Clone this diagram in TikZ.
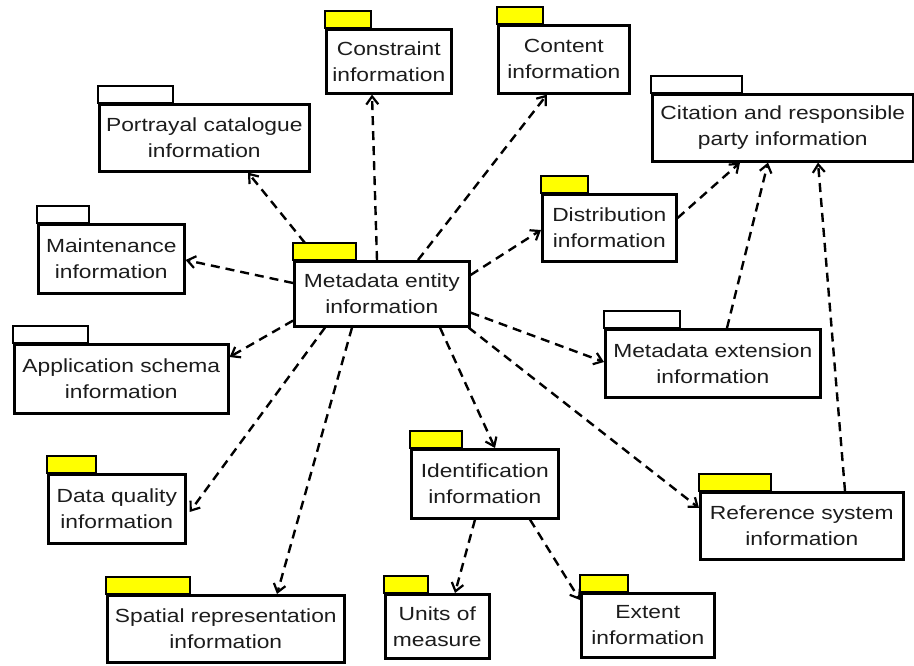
\documentclass[tikz,border=0pt]{standalone}
\usepackage{fontspec}
\setmainfont{Liberation Sans}[FakeStretch=1.2]
\usetikzlibrary{arrows.meta}
\definecolor{tabyellow}{HTML}{FFFF00}
\definecolor{labelgray}{HTML}{1C1C1C}

% package symbol: body node plus the small tab on its upper left
\newcommand{\pkgbox}[8]{%
  \node[pkgbody, minimum width=#4pt, minimum height=#5pt, anchor=north west] (#1) at (#2,#3) {#8};
  \draw[pkgtab, fill=#7] (#1.north west) rectangle ++(#6,-17);
}

\tikzset{
  pkgbody/.style={draw=black, line width=2.6pt, fill=white, align=center,
    text=labelgray, font=\fontsize{19}{26}\selectfont, inner sep=2pt},
  pkgtab/.style={draw=black, line width=2.6pt},
  dep/.style={line width=2.4pt, dash pattern=on 9pt off 6pt,
    -{Straight Barb[length=8pt,width=12pt,line width=2.2pt]}},
}

\begin{document}
\begin{tikzpicture}[x=1pt, y=-1pt]
\useasboundingbox (0,0) rectangle (914,666);

\pkgbox{meta}{293}{260}{175}{65}{63}{tabyellow}{Metadata entity\\information}
\pkgbox{constraint}{325}{28}{125}{64}{46}{tabyellow}{Constraint\\information}
\pkgbox{content}{497}{24}{131}{68}{46}{tabyellow}{Content\\information}
\pkgbox{portrayal}{98}{103}{210}{67}{75}{white}{Portrayal catalogue\\information}
\pkgbox{citation}{651}{93}{261}{67}{91}{white}{Citation and responsible\\party information}
\pkgbox{maint}{37}{223}{146}{69}{52}{white}{Maintenance\\information}
\pkgbox{distrib}{541}{193}{134}{67}{47}{tabyellow}{Distribution\\information}
\pkgbox{appschema}{13}{343}{214}{69}{75}{white}{Application schema\\information}
\pkgbox{extension}{604}{328}{215}{68}{76}{white}{Metadata extension\\information}
\pkgbox{quality}{47}{473}{137}{69}{49}{tabyellow}{Data quality\\information}
\pkgbox{ident}{410}{448}{147}{69}{52}{tabyellow}{Identification\\information}
\pkgbox{refsys}{699}{491}{203}{67}{72}{tabyellow}{Reference system\\information}
\pkgbox{spatial}{106}{594}{237}{67}{84}{tabyellow}{Spatial representation\\information}
\pkgbox{units}{384}{593}{104}{64}{44}{tabyellow}{Units of\\measure}
\pkgbox{extent}{580}{592}{133}{64}{48}{tabyellow}{Extent\\information}

% dependencies of the metadata entity
\draw[dep] ([xshift=84pt]meta.north west) -- ([xshift=47pt]constraint.south west);
\draw[dep] ([xshift=125pt]meta.north west) -- ([xshift=50pt]content.south west);
\draw[dep] ([xshift=12pt,yshift=17pt]meta.north west) -- ([xshift=150pt]portrayal.south west);
\draw[dep] ([yshift=-23pt]meta.north west) -- ([yshift=-37pt]maint.north east);
\draw[dep] ([yshift=7pt]meta.south west) -- ([yshift=-14pt]appschema.north east);
\draw[dep] ([xshift=32pt]meta.south west) -- ([xshift=3pt,yshift=-39pt]quality.north east);
\draw[dep] ([xshift=59pt]meta.south west) -- ([xshift=171pt]spatial.north west);
\draw[dep] ([xshift=147pt]meta.south west) -- ([xshift=85pt]ident.north west);
\draw[dep] ([xshift=-2pt]meta.south east) -- ([yshift=-17pt]refsys.north west);
\draw[dep] ([yshift=15pt]meta.south east) -- ([yshift=-34pt]extension.north west);
\draw[dep] ([yshift=-15pt]meta.north east) -- ([yshift=-37pt]distrib.north west);

% dependencies on citation information
\draw[dep] ([yshift=-25pt]distrib.north east) -- ([xshift=89pt]citation.south west);
\draw[dep] ([xshift=123pt]extension.north west) -- ([xshift=117pt]citation.south west);
\draw[dep] ([xshift=146pt]refsys.north west) -- ([xshift=167pt]citation.south west);

% dependencies of identification information
\draw[dep] ([xshift=65pt]ident.south west) -- ([xshift=71pt]units.north west);
\draw[dep] ([xshift=120pt]ident.south west) -- ([yshift=-8pt]extent.north west);
\end{tikzpicture}
\end{document}
